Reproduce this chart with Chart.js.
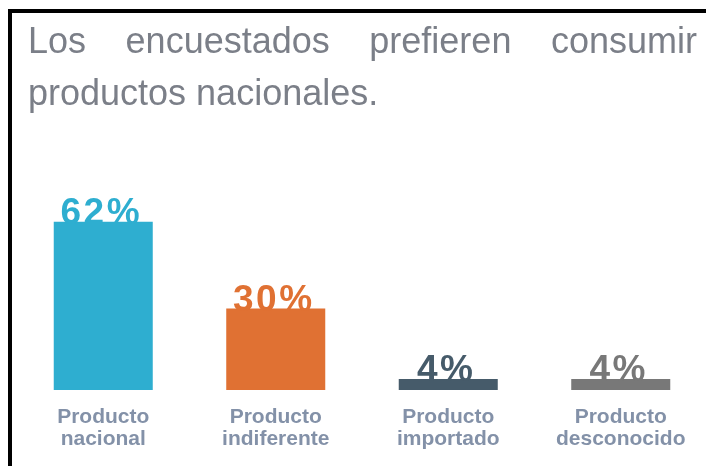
<!DOCTYPE html>
<html><head><meta charset="utf-8">
<script src="https://cdn.jsdelivr.net/npm/chart.js@4/dist/chart.umd.min.js"></script>
<style>
html,body{margin:0;padding:0;background:#fff;overflow:hidden;width:706px;height:466px;}
#wrap{position:absolute;left:0;top:0;width:708px;height:466px;}
#frame{position:absolute;left:8px;top:9px;width:698px;height:457px;border-left:4px solid #000;border-top:4px solid #000;box-sizing:border-box;}
#title{position:absolute;left:28px;top:15px;width:669px;margin:0;font-family:"Liberation Sans",Arial,sans-serif;font-size:36px;line-height:52px;color:#7b7f88;text-align:justify;}
</style></head><body>
<div id="wrap"><canvas id="c" width="708" height="466"></canvas></div>
<div id="frame"></div>
<p id="title">Los encuestados prefieren consumir productos nacionales.</p>
<script>
const categories = ['Producto nacional', 'Producto indiferente', 'Producto importado', 'Producto desconocido'];
const values = [62, 30, 4, 4];
const valueLabels = ['62%', '30%', '4%', '4%'];
const barColors = ['#2eaed0', '#e07133', '#465b6a', '#787878'];

const tickLabels = categories.map(s => { const i = s.indexOf(' '); return [s.slice(0, i), s.slice(i + 1)]; });

const valueLabelPlugin = {
  id: 'valueLabels',
  afterDatasetsDraw(chart) {
    const ctx = chart.ctx;
    const meta = chart.getDatasetMeta(0);
    ctx.save();
    ctx.font = 'bold 37px "Liberation Sans", Arial, sans-serif';
    ctx.letterSpacing = '2.5px';
    ctx.textAlign = 'center';
    ctx.textBaseline = 'alphabetic';
    meta.data.forEach((bar, i) => {
      ctx.fillStyle = barColors[i];
      ctx.fillText(valueLabels[i], bar.x - 2, bar.y + 2);
    });
    ctx.restore();
  }
};

new Chart(document.getElementById('c'), {
  type: 'bar',
  data: {
    labels: tickLabels,
    datasets: [{
      data: values,
      backgroundColor: barColors,
      borderWidth: 0,
      categoryPercentage: 1,
      barPercentage: 0.574
    }]
  },
  options: {
    responsive: false,
    animation: false,
    layout: { padding: { left: 17, right: 1, top: 200, bottom: 0 } },
    plugins: { legend: { display: false }, tooltip: { enabled: false } },
    scales: {
      x: {
        grid: { display: false, drawTicks: false },
        border: { display: false },
        ticks: {
          padding: 16,
          color: '#8391a8',
          autoSkip: false,
          maxRotation: 0,
          font: { family: '"Liberation Sans", Arial, sans-serif', size: 21, weight: 'bold', lineHeight: 1.05 }
        }
      },
      y: { display: false, min: 0, max: 70 }
    }
  },
  plugins: [valueLabelPlugin]
});
</script>
</body></html>
